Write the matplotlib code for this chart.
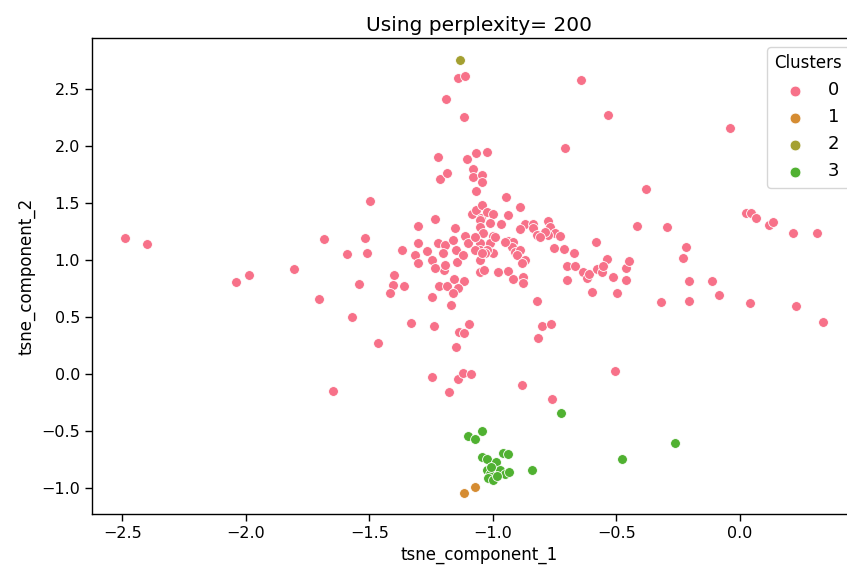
#!/usr/bin/env python3
"""t-SNE scatter of the clusters (perplexity 200)."""

import matplotlib

matplotlib.use("Agg")
import matplotlib.pyplot as plt  # noqa: E402

TITLE = "Using perplexity= 200"
X_LABEL = "tsne_component_1"
Y_LABEL = "tsne_component_2"
CLUSTER_LABELS = ["0", "1", "2", "3"]
# first four colours of the husl palette
CLUSTER_COLORS = ["#f77189", "#d58c32", "#a4a031", "#50b131"]

# cluster 0
C0_X = [
    -2.490, -2.401, -2.040, -1.988, -1.806, -1.704, -1.684, -1.648, -1.591, -1.571,
    -1.543, -1.518, -1.510, -1.498, -1.466, -1.401, -1.405, -1.360, -1.417, -1.332,
    -1.239, -1.247, -1.170, -1.219, -1.186, -1.158, -1.117, -1.142, -1.162, -1.198,
    -1.097, -1.138, -1.117, -1.150, -1.247, -1.178, -1.142, -1.121, -1.089, -0.883,
    -0.506, -0.761, -0.822, -0.802, -0.765, -0.818, -1.053, -1.036, -0.700, -0.668,
    -0.700, -0.713, -0.672, -0.636, -0.619, -0.611, -0.579, -0.559, -0.538, -0.555,
    -0.599, -0.514, -0.498, -0.462, -0.462, -0.449, -0.417, -0.381, -0.644, -0.534,
    -0.709, -0.040, -0.296, 0.024, 0.045, 0.065, 0.117, 0.134, 0.215, 0.312,
    -0.583, -0.219, -0.231, -0.206, -0.113, -0.085, -0.320, -0.206, 0.040, 0.227,
    0.336, -1.142, -1.113, -1.190, -1.117, -1.223, -1.105, -1.069, -1.024, -1.215,
    -1.186, -1.081, -1.081, -1.045, -1.045, -1.069, -0.947, -0.753,
    -1.304, -1.235, -1.154, -1.085, -1.069, -1.049, -1.045, -1.024, -1.000, -0.939,
    -0.891, -1.053, -1.012, -0.968, -0.870, -0.838, -0.838, -0.777, -0.769, -0.749,
    -0.729, -0.777, -0.789, -0.891, -0.822, -0.810, -1.053, -1.040, -1.000, -1.012,
    -1.053, -1.000, -0.939, -0.919, -0.923, -0.911, -0.891, -0.903, -0.951, -0.870,
    -0.883, -0.980, -0.939, -0.919, -0.879, -0.879, -1.053, -1.053, -1.024, -1.032,
    -1.368, -1.304, -1.316, -1.304, -1.267, -1.247, -1.223, -1.194, -1.202, -1.162,
    -1.150, -1.146, -1.121, -1.113, -1.101, -1.073, -1.073, -1.045, -1.194, -1.235,
    -0.992,
]
C0_Y = [
    1.193, 1.140, 0.807, 0.868, 0.921, 0.658, 1.184, -0.149, 1.053, 0.500,
    0.789, 1.193, 1.061, 1.518, 0.272, 0.868, 0.781, 0.772, 0.711, 0.447,
    0.421, 0.675, 0.605, 0.772, 0.772, 0.833, 0.816, 0.754, 0.711, 0.912,
    0.439, 0.368, 0.360, 0.237, -0.026, -0.158, -0.044, 0.009, 0.000, -0.096,
    0.026, -0.219, 0.640, 0.421, 0.439, 0.316, 0.895, 0.912, 0.947, 0.947,
    0.825, 1.096, 1.061, 0.895, 0.842, 0.877, 0.921, 0.895, 1.009, 0.947,
    0.719, 0.851, 0.711, 0.825, 0.930, 0.991, 1.298, 1.623, 2.579, 2.272,
    1.982, 2.158, 1.289, 1.412, 1.412, 1.368, 1.307, 1.333, 1.237, 1.237,
    1.158, 1.114, 1.018, 0.816, 0.816, 0.693, 0.632, 0.640, 0.623, 0.596,
    0.456, 2.596, 2.614, 2.412, 2.254, 1.904, 1.886, 1.939, 1.947, 1.711,
    1.763, 1.798, 1.728, 1.746, 1.684, 1.605, 1.553, 1.105,
    1.298, 1.360, 1.281, 1.404, 1.439, 1.368, 1.482, 1.421, 1.404, 1.395,
    1.465, 1.351, 1.325, 1.316, 1.316, 1.316, 1.281, 1.342, 1.289, 1.237,
    1.211, 1.219, 1.246, 1.272, 1.219, 1.202, 1.289, 1.237, 1.211, 1.149,
    1.149, 1.061, 1.167, 1.158, 1.114, 1.070, 1.088, 1.044, 1.158, 1.000,
    0.974, 0.895, 0.904, 0.833, 0.851, 0.798, 1.088, 1.000, 1.088, 1.061,
    1.088, 1.149, 1.044, 0.974, 1.079, 1.000, 1.149, 1.132, 1.061, 1.175,
    1.088, 0.982, 1.044, 1.211, 1.149, 1.202, 1.088, 1.061, 0.956, 0.930,
    1.202,
]

# cluster 1
C1_X = [-1.117, -1.073]
C1_Y = [-1.044, -0.991]

# cluster 2
C2_X = [-1.134]
C2_Y = [2.754]

# cluster 3
C3_X = [
    -0.725, -0.263, -0.478, -0.842, -1.101, -1.073, -1.045, -1.045, -1.024, -0.960,
    -0.939, -0.996, -0.988, -1.024, -1.012, -1.020, -1.000, -0.972, -0.951, -0.935,
    -0.984, -1.008,
]
C3_Y = [
    -0.342, -0.605, -0.746, -0.842, -0.544, -0.570, -0.500, -0.728, -0.746, -0.693,
    -0.702, -0.807, -0.772, -0.842, -0.877, -0.912, -0.930, -0.842, -0.877, -0.860,
    -0.895, -0.816,
]

X_TICKS = [-2.5, -2.0, -1.5, -1.0, -0.5, 0.0]
Y_TICKS = [-1.0, -0.5, 0.0, 0.5, 1.0, 1.5, 2.0, 2.5]


def main() -> int:
    plt.rcParams["font.family"] = ["DejaVu Sans"]
    fig = plt.figure(figsize=(8.47, 5.69), dpi=100)
    # the screenshot is cropped: the right spine runs off the edge
    ax = fig.add_axes([92 / 847, 55 / 569, 774 / 847, 476 / 569])

    groups = [(C0_X, C0_Y), (C1_X, C1_Y), (C2_X, C2_Y), (C3_X, C3_Y)]
    for (xs, ys), label, color in zip(groups, CLUSTER_LABELS, CLUSTER_COLORS):
        ax.scatter(xs, ys, s=50, color=color, edgecolors="white", linewidths=0.6, label=label)

    ax.set_xlim(-2.623, 0.510)
    ax.set_ylim(-1.228, 2.947)
    ax.set_xticks(X_TICKS)
    ax.set_yticks(Y_TICKS)
    ax.tick_params(labelsize=11.5, width=1.0, length=5)
    for spine in ax.spines.values():
        spine.set_linewidth(1.0)

    ax.set_xlabel(X_LABEL, fontsize=12)
    ax.set_ylabel(Y_LABEL, fontsize=12)
    ax.set_title(TITLE, fontsize=14.5, pad=5)

    ax.legend(title="Clusters", loc="upper left", fontsize=13, title_fontsize=12,
              markerscale=1.1, borderaxespad=0,
              bbox_to_anchor=(767 / 847, 522 / 569), bbox_transform=fig.transFigure)

    fig.savefig("out.png", dpi=100)
    plt.close(fig)
    return 0


if __name__ == "__main__":
    raise SystemExit(main())
